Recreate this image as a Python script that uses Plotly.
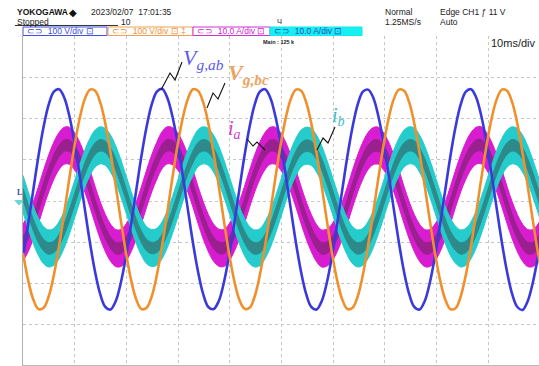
import plotly.graph_objects as go

# ---------------- data (read from the oscilloscope screen) ----------------
# sample time base: one sample every 0.996 ms (20 samples per 19.92 ms mains period)
SAMPLE_MS = 0.996
N_SAMPLES = 102
time_ms = [k * SAMPLE_MS for k in range(N_SAMPLES)]

# line voltage V_g,ab  [V]  (100 V/div)
v_ab = [-138, -60, 23, 105, 176, 230, 261, 267, 247, 202, 138, 60, -23, -105, -176, -230, -261, -267, -247, -202,
        -138, -60, 23, 105, 176, 230, 261, 268, 247, 202, 138, 60, -23, -105, -176, -230, -261, -266, -247, -202,
        -138, -60, 23, 105, 176, 230, 261, 267, 247, 202, 138, 60, -23, -105, -176, -230, -261, -267, -247, -202,
        -138, -60, 23, 105, 176, 230, 261, 266, 247, 202, 138, 60, -23, -105, -176, -230, -261, -267, -247, -202,
        -138, -60, 23, 105, 176, 230, 261, 267, 247, 202, 138, 60, -23, -105, -176, -230, -261, -268, -247, -202,
        -138, -60]

# line voltage V_g,bc  [V]  (100 V/div)
v_bc = [-130, -196, -243, -266, -263, -235, -183, -113, -33, 51, 130, 196, 243, 266, 263, 235, 183, 113, 33, -51,
        -130, -196, -243, -266, -263, -235, -183, -113, -33, 51, 130, 196, 243, 267, 263, 235, 183, 113, 33, -51,
        -130, -196, -243, -265, -263, -235, -183, -113, -33, 51, 130, 196, 243, 266, 263, 235, 183, 113, 33, -51,
        -130, -196, -243, -266, -263, -235, -183, -113, -33, 51, 130, 196, 243, 266, 263, 235, 183, 113, 33, -51,
        -130, -196, -243, -266, -264, -235, -183, -113, -33, 51, 130, 196, 243, 266, 263, 235, 183, 113, 33, -51,
        -130, -196]

# phase current i_a  [A]  (10 A/div), mean of the noisy band
i_a = [-11.1, -8.8, -5.7, -2.0, 2.0, 5.7, 8.8, 11.1, 12.4, 12.4, 11.1, 8.8, 5.7, 2.0, -2.0, -5.7, -8.8, -11.1, -12.4, -12.4,
       -11.1, -8.8, -5.7, -2.0, 2.0, 5.7, 8.8, 11.3, 12.5, 12.3, 11.1, 8.8, 5.7, 2.0, -2.0, -5.7, -8.8, -11.1, -12.3, -12.4,
       -11.1, -8.8, -5.7, -2.0, 2.0, 5.7, 8.8, 11.1, 12.4, 12.4, 11.1, 8.8, 5.7, 2.0, -2.0, -5.7, -8.8, -11.2, -12.5, -12.3,
       -11.1, -8.8, -5.7, -2.0, 2.0, 5.7, 8.8, 11.1, 12.3, 12.4, 11.1, 8.8, 5.7, 2.0, -2.0, -5.7, -8.8, -11.1, -12.4, -12.4,
       -11.1, -8.8, -5.7, -2.0, 2.0, 5.7, 8.8, 11.1, 12.4, 12.5, 11.1, 8.8, 5.7, 2.0, -2.0, -5.7, -8.8, -11.1, -12.4, -12.4,
       -11.1, -8.8]

# phase current i_b  [A]  (10 A/div), mean of the noisy band
i_b = [0.7, -3.2, -6.8, -9.7, -11.7, -12.5, -12.1, -10.5, -7.9, -4.5, -0.7, 3.2, 6.8, 9.7, 11.7, 12.5, 12.1, 10.5, 7.9, 4.5,
       0.7, -3.2, -6.8, -9.7, -11.7, -12.4, -12.1, -10.5, -7.9, -4.5, -0.7, 3.2, 6.8, 9.7, 11.8, 12.5, 12.1, 10.5, 7.9, 4.5,
       0.7, -3.2, -6.8, -9.7, -11.7, -12.5, -12.2, -10.5, -7.9, -4.5, -0.7, 3.2, 6.8, 9.7, 11.7, 12.4, 12.1, 10.5, 7.9, 4.5,
       0.7, -3.2, -6.8, -9.7, -11.7, -12.5, -12.1, -10.5, -7.9, -4.5, -0.7, 3.2, 6.8, 9.7, 11.7, 12.5, 12.2, 10.5, 7.9, 4.5,
       0.7, -3.2, -6.8, -9.7, -11.6, -12.5, -12.1, -10.5, -7.9, -4.5, -0.7, 3.2, 6.8, 9.7, 11.7, 12.5, 12.1, 10.5, 7.9, 4.5,
       0.7, -3.2]

# switching-ripple half widths of the current traces [A]
RIPPLE_OUTER = 4.5
RIPPLE_CORE = 1.4

# ---------------- layout helpers (pixel -> paper) ----------------
W, H = 539, 366
ML, MR, MT, MB = 23, 0, 36, 0
PW, PH = W - ML - MR, H - MT - MB


def px(x):
    return (x - ML) / PW


def py(y):
    return (H - MB - y) / PH


BLUE = "#3a3adc"
ORANGE = "#f0902c"
MAG = "#d81ccf"
MAG_CORE = "#9a2090"
TEAL = "#26cccc"
TEAL_CORE = "#2e8a8a"

fig = go.Figure()


def band(center, ripple, color, name):
    lo = [c - ripple for c in center]
    hi = [c + ripple for c in center]
    fig.add_trace(go.Scatter(x=time_ms, y=lo, yaxis="y", mode="lines",
                             line=dict(width=1, color=color, shape="spline"),
                             hoverinfo="skip", showlegend=False, name=name))
    fig.add_trace(go.Scatter(x=time_ms, y=hi, yaxis="y", mode="lines", fill="tonexty",
                             fillcolor=color, line=dict(width=1, color=color, shape="spline"),
                             hoverinfo="skip", showlegend=False, name=name))


band(i_a, RIPPLE_OUTER, MAG, "i_a")
band(i_a, RIPPLE_CORE, MAG_CORE, "i_a core")
band(i_b, RIPPLE_OUTER, TEAL, "i_b")
band(i_b, RIPPLE_CORE, TEAL_CORE, "i_b core")

fig.add_trace(go.Scatter(x=time_ms, y=v_ab, yaxis="y2", mode="lines",
                         line=dict(width=2.6, color=BLUE, shape="spline"), showlegend=False, name="V_g,ab"))
fig.add_trace(go.Scatter(x=time_ms, y=v_bc, yaxis="y2", mode="lines",
                         line=dict(width=2.6, color=ORANGE, shape="spline"), showlegend=False, name="V_g,bc"))

shapes = []
annotations = []


def text(x, y, s, size=8.5, color="#222222", family="Liberation Sans", anchor="left", yanchor="middle"):
    annotations.append(dict(x=px(x), y=py(y), xref="paper", yref="paper", text=s, showarrow=False,
                            xanchor=anchor, yanchor=yanchor,
                            font=dict(size=size, color=color, family=family)))


def rect(x0, y0, x1, y1, line, fill="white", lw=1):
    shapes.append(dict(type="rect", xref="paper", yref="paper", x0=px(x0), x1=px(x1), y0=py(y1), y1=py(y0),
                       line=dict(color=line, width=lw), fillcolor=fill, layer="above"))


def path(points, color="#111111", width=1.1, fill=None):
    d = "M " + " L ".join(f"{px(a):.5f},{py(b):.5f}" for a, b in points)
    if fill:
        d += " Z"
    shapes.append(dict(type="path", xref="paper", yref="paper", path=d,
                       line=dict(color=color, width=width), fillcolor=fill, layer="above"))


# header
text(15, 12.5, "<b>YOKOGAWA</b>", size=8.5, color="#111111")
text(67, 12.5, "◆", size=10, color="#111111")
text(89, 12, "2023/02/07  17:01:35", size=8.5)
text(15, 21.5, "Stopped", size=8.5)
path([(15, 25.5), (118, 25.5)], color="#333333", width=1)
text(119, 21.5, "10", size=8.5)
text(275, 21.5, "Ч", size=7.5)
text(383, 11.5, "Normal", size=8.5)
text(383, 21.5, "1.25MS/s", size=8.5)
text(438, 11.5, "Edge CH1 ƒ 11 V", size=8.5)
text(438, 21.5, "Auto", size=8.5)

# channel boxes
rect(23, 27, 107, 35.5, "#4050e0")
rect(108, 27, 193, 35.5, "#f0a050")
rect(193, 27, 270, 35.5, "#d030d0")
rect(270, 27, 362, 35.5, "#10eaea", fill="#16f0f0")
text(25, 31.5, "⊂⊃  100 V/div ⊡", size=8.5, color="#3a48e0")
text(110, 31.5, "⊂⊃  100 V/div ⊡ ‡", size=8.5, color="#f09030")
text(195, 31.5, "⊂⊃  10.0 A/div ⊡", size=8.5, color="#d020d0")
text(272, 31.5, "⊂⊃  10.0 A/div ⊡", size=8.5, color="#2a48c0")

# in-screen info
text(261, 42, "<b>Main : 125 k</b>", size=5.5, color="#222222")
text(489, 43.5, "10ms/div", size=11, color="#222222")

# channel ground markers
text(15, 193, "<b>L</b>", size=8, color="#3848a8", family="Liberation Serif")
path([(15, 200.5), (23, 200.5), (19, 205)], color="#66d6d6", width=1, fill="#66d6d6")

# waveform labels
text(181, 58.5, "<i>V</i><sub><i>g,ab</i></sub>", size=22, color="#5a5af0", family="Liberation Serif")
text(226, 73.5, "<b><i>V</i><sub><i>g,bc</i></sub></b>", size=22, color="#eea262", family="Liberation Serif")
text(226, 129, "<i>i</i><sub><i>a</i></sub>", size=20, color="#d23cc8", family="Liberation Serif")
text(330, 116, "<i>i</i><sub><i>b</i></sub>", size=20, color="#3cbcc8", family="Liberation Serif")

# leader squiggles
path([(182, 62), (175, 80), (170, 73), (161, 90)])
path([(225, 83), (218, 99), (213, 93), (207, 108)])
path([(247, 139), (253, 146), (257, 142), (265, 150)])
path([(335, 127), (328, 143), (323, 138), (317, 150)])

# bottom border
path([(23, 365.5), (539, 365.5)], color="#b8b8b8", width=1)

grid = dict(showgrid=True, gridcolor="#c6c6c6", griddash="dot", gridwidth=1,
            zeroline=False, showticklabels=False, ticks="")

# current axis (10 A/div): gridlines at the screen divisions
I_RANGE = [-41, 39]
I_DIV = 10
fig.update_layout(
    width=W, height=H,
    margin=dict(l=ML, r=MR, t=MT, b=MB, pad=0),
    paper_bgcolor="white", plot_bgcolor="white",
    showlegend=False,
    xaxis=dict(range=[0, 99.8], dtick=10, tick0=0, showline=False, **grid),
    yaxis=dict(range=I_RANGE, tickmode="linear", tick0=I_RANGE[0], dtick=I_DIV,
               showline=True, linecolor="#b0b0b0", linewidth=1, **grid),
    yaxis2=dict(range=[-404, 396], overlaying="y", showgrid=False, zeroline=False,
                showticklabels=False, ticks="", showline=False),
    shapes=shapes,
    annotations=annotations,
)

fig.write_html("out.html")
